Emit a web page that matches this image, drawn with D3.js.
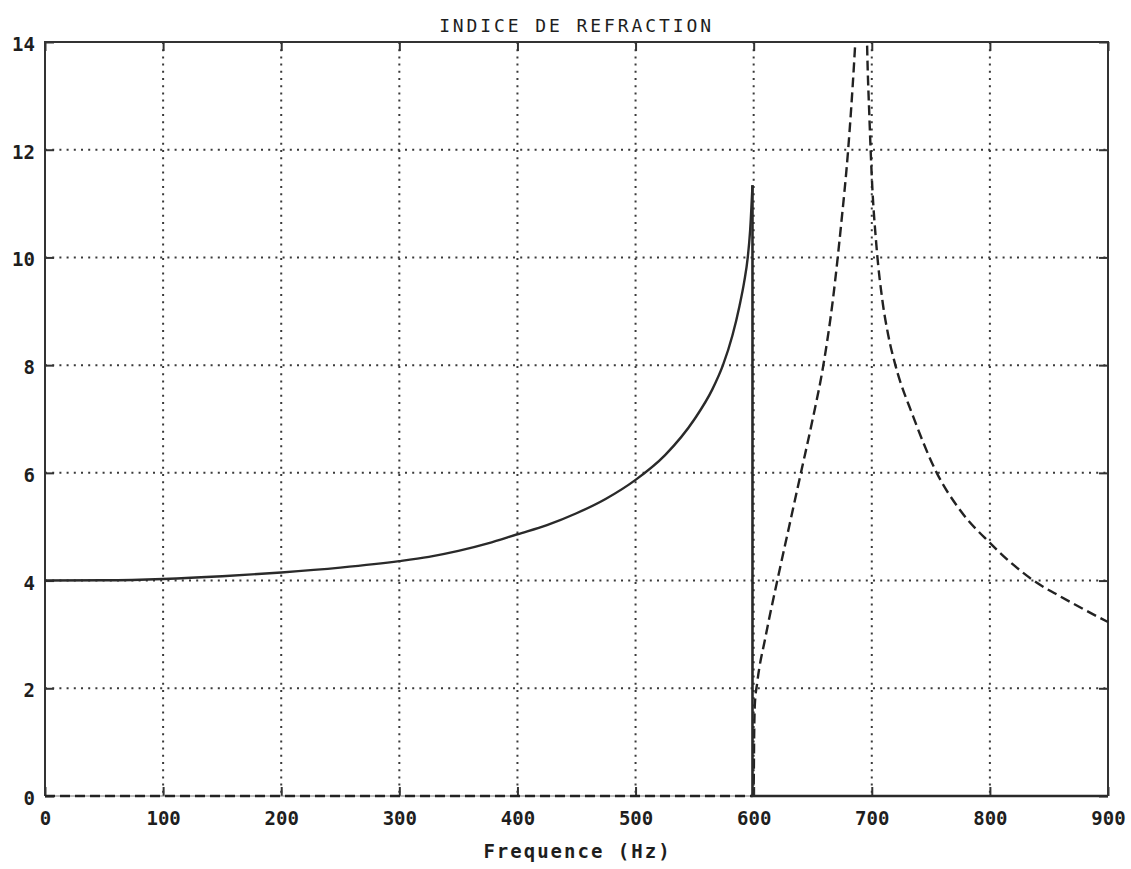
<!DOCTYPE html>
<html>
<head>
<meta charset="utf-8">
<script src="https://cdn.jsdelivr.net/npm/d3@7"></script>
<style>
  html, body { margin: 0; padding: 0; background: #fff; }
  svg { display: block; }
  text { font-family: "DejaVu Sans Mono", monospace; fill: #1e1e1e; }
</style>
</head>
<body>
<svg id="chart" width="1131" height="869"></svg>
<script>
// Axis ticks
const freqTicks = [0, 100, 200, 300, 400, 500, 600, 700, 800, 900];
const indexTicks = [0, 2, 4, 6, 8, 10, 12, 14];

// Real part of the index: dispersive branch below the resonance
const realFreq  = [0, 50, 100, 150, 200, 250, 300, 325, 350, 375, 400, 425, 450, 475, 500, 525, 550, 565, 574, 582, 588, 592, 595, 597, 599];
const realIndex = [4.00, 4.005, 4.03, 4.08, 4.15, 4.24, 4.36, 4.44, 4.55, 4.69, 4.86, 5.03, 5.25, 5.52, 5.87, 6.33, 7.00, 7.55, 8.00, 8.55, 9.10, 9.55, 10.00, 10.50, 11.34];

// Real part above the resonance (drops to zero)
const realHighFreq  = [599, 599, 900];
const realHighIndex = [11.34, 0, 0];

// Imaginary part (dashed), rising branch
const imagFreqA  = [0, 300, 599, 600, 600.4, 601, 603, 610, 620, 630, 640, 650, 659, 667, 674, 680, 685, 689];
const imagIndexA = [0, 0, 0, 0.2, 1.1, 1.7, 2.1, 2.95, 4.0, 5.0, 6.0, 7.0, 8.0, 9.2, 10.6, 12.0, 13.6, 15.2];

// Imaginary part (dashed), decaying branch
const imagFreqB  = [694, 696, 698, 700, 704, 709, 714, 720, 735, 755, 775, 800, 820, 837, 860, 880, 900];
const imagIndexB = [17.0, 14.0, 12.6, 11.5, 10.2, 9.2, 8.55, 8.0, 7.05, 6.0, 5.3, 4.7, 4.29, 4.0, 3.70, 3.46, 3.23];

const svg = d3.select("#chart");
const m = { left: 45, right: 1108, top: 42, bottom: 796 };

const x = d3.scaleLinear().domain([0, 900]).range([m.left, m.right]);
const y = d3.scaleLinear().domain([0, 14]).range([m.bottom, m.top]);

// Clip region for the curves (a little slack below the axis so the zero line shows)
svg.append("defs").append("clipPath").attr("id", "plot")
  .append("rect").attr("x", m.left - 2).attr("y", m.top)
  .attr("width", m.right - m.left + 4).attr("height", m.bottom - m.top + 3);

// Dotted grid
const grid = svg.append("g").attr("stroke", "#3a3a3a").attr("stroke-width", 2)
  .attr("stroke-dasharray", "2 5.2").attr("fill", "none");
freqTicks.slice(1, -1).forEach(f => {
  grid.append("line").attr("x1", x(f)).attr("x2", x(f)).attr("y1", m.top).attr("y2", m.bottom);
});
indexTicks.slice(1, -1).forEach(v => {
  grid.append("line").attr("x1", m.left).attr("x2", m.right).attr("y1", y(v)).attr("y2", y(v));
});

// Axes (tick marks drawn inward on all four sides)
const tickLen = 9;
const axB = d3.axisBottom(x).tickValues(freqTicks).tickSize(-tickLen).tickPadding(16).tickFormat(d3.format("d"));
const axT = d3.axisTop(x).tickValues(freqTicks).tickSize(-tickLen).tickFormat("");
const axL = d3.axisLeft(y).tickValues(indexTicks).tickSize(-tickLen).tickPadding(10).tickFormat(d3.format("d"));
const axR = d3.axisRight(y).tickValues(indexTicks).tickSize(-tickLen).tickFormat("");

function styleAxis(g) {
  g.select(".domain").remove();
  g.selectAll(".tick line").attr("stroke", "#333").attr("stroke-width", 2);
  g.selectAll(".tick text").attr("fill", "#1e1e1e")
    .style("font-family", "'DejaVu Sans Mono', monospace")
    .style("font-weight", "bold").style("font-size", "19px");
}
svg.append("g").attr("transform", `translate(0,${m.bottom})`).call(axB).call(styleAxis);
svg.append("g").attr("transform", `translate(0,${m.top})`).call(axT).call(styleAxis);
svg.append("g").attr("transform", `translate(${m.left},0)`).call(axL).call(styleAxis)
  .selectAll(".tick text").attr("dy", "0.45em");
svg.append("g").attr("transform", `translate(${m.right},0)`).call(axR).call(styleAxis);

// Frame: bottom edge drawn faint, the zero-valued curves trace over it
const frame = svg.append("g").attr("fill", "none");
frame.append("path")
  .attr("d", `M${m.left},${m.bottom}V${m.top}H${m.right}V${m.bottom}`)
  .attr("stroke", "#333").attr("stroke-width", 2);
frame.append("line").attr("x1", m.left).attr("x2", m.right)
  .attr("y1", m.bottom).attr("y2", m.bottom)
  .attr("stroke", "#777").attr("stroke-width", 1.2);

const plot = svg.append("g").attr("clip-path", "url(#plot)");

const smooth = d3.line().x(d => x(d[0])).y(d => y(d[1])).curve(d3.curveMonotoneX);
const straight = d3.line().x(d => x(d[0])).y(d => y(d[1]));

// Imaginary part, dashed
[[imagFreqA, imagIndexA], [imagFreqB, imagIndexB]].forEach(([fs, vs]) => {
  plot.append("path").datum(fs.map((f, i) => [f, vs[i]]))
    .attr("d", smooth).attr("fill", "none")
    .attr("stroke", "#222").attr("stroke-width", 2.4)
    .attr("stroke-dasharray", "10 5");
});

// Real part, solid
plot.append("path").datum(realFreq.map((f, i) => [f, realIndex[i]]))
  .attr("d", smooth).attr("fill", "none")
  .attr("stroke", "#2a2a2a").attr("stroke-width", 2.4);
plot.append("path").datum(realHighFreq.map((f, i) => [f, realHighIndex[i]]))
  .attr("d", straight).attr("fill", "none")
  .attr("stroke", "#2a2a2a").attr("stroke-width", 2.6);

// Title and axis label
svg.append("text").attr("x", (m.left + m.right) / 2).attr("y", 32)
  .attr("text-anchor", "middle")
  .style("font-size", "18px").style("letter-spacing", "2.9px")
  .text("INDICE DE REFRACTION");

svg.append("text").attr("x", (m.left + m.right) / 2 + 1).attr("y", 858)
  .attr("text-anchor", "middle")
  .style("font-size", "19px").style("font-weight", "bold").style("letter-spacing", "2px")
  .text("Frequence (Hz)");
</script>
</body>
</html>
